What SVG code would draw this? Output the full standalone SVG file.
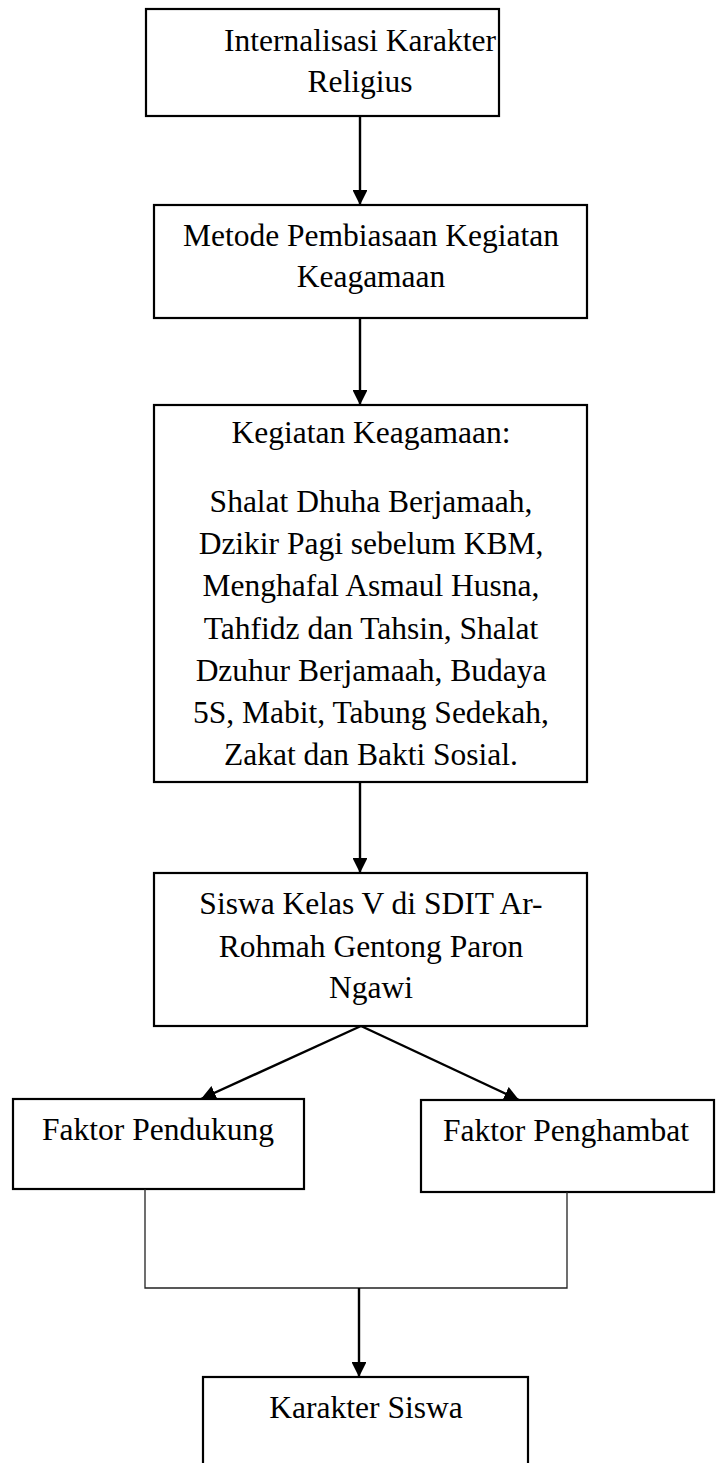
<svg xmlns="http://www.w3.org/2000/svg" width="716" height="1463" viewBox="0 0 716 1463">
<style>
.box{fill:#fff;stroke:#000;stroke-width:2.2}
.t{font-family:"Liberation Serif","Times New Roman",serif;font-size:31.5px;fill:#000;text-anchor:middle}
.c{stroke:#000;stroke-width:2.4;fill:none}
.thin{stroke:#222;stroke-width:1.3;fill:none}
</style>
<defs>
<marker id="ah" viewBox="0 0 10 10" refX="10" refY="5" markerWidth="6.2" markerHeight="6.2" markerUnits="strokeWidth" orient="auto">
<path d="M0,0 L10,5 L0,10 z" fill="#000"/>
</marker>
</defs>
<rect width="716" height="1463" fill="#fff"/>
<g id="n1">
<rect class="box" x="146" y="9" width="353" height="107"/>
<text class="t" x="360" y="51">Internalisasi Karakter</text>
<text class="t" x="360" y="92">Religius</text>
</g>
<g id="n2">
<rect class="box" x="154" y="205" width="433" height="113"/>
<text class="t" x="371" y="246">Metode Pembiasaan Kegiatan</text>
<text class="t" x="371" y="287">Keagamaan</text>
</g>
<g id="n3">
<rect class="box" x="154" y="405" width="433" height="377"/>
<text class="t" x="371" y="443">Kegiatan Keagamaan:</text>
<text class="t" x="371" y="512">Shalat Dhuha Berjamaah,</text>
<text class="t" x="371" y="554">Dzikir Pagi sebelum KBM,</text>
<text class="t" x="371" y="596">Menghafal Asmaul Husna,</text>
<text class="t" x="371" y="639">Tahfidz dan Tahsin, Shalat</text>
<text class="t" x="371" y="681">Dzuhur Berjamaah, Budaya</text>
<text class="t" x="371" y="723">5S, Mabit, Tabung Sedekah,</text>
<text class="t" x="371" y="765">Zakat dan Bakti Sosial.</text>
</g>
<g id="n4">
<rect class="box" x="154" y="873" width="433" height="153"/>
<text class="t" x="371" y="914">Siswa Kelas V di SDIT Ar-</text>
<text class="t" x="371" y="957">Rohmah Gentong Paron</text>
<text class="t" x="371" y="998">Ngawi</text>
</g>
<g id="n5">
<rect class="box" x="13" y="1099" width="291" height="90"/>
<text class="t" x="158" y="1140">Faktor Pendukung</text>
</g>
<g id="n6">
<rect class="box" x="421" y="1100" width="293" height="92"/>
<text class="t" x="566" y="1141">Faktor Penghambat</text>
</g>
<g id="n7">
<rect class="box" x="203" y="1377" width="325" height="110"/>
<text class="t" x="366" y="1418">Karakter Siswa</text>
</g>
<g id="connectors">
<line class="c" x1="360" y1="116" x2="360" y2="205" marker-end="url(#ah)"/>
<line class="c" x1="360" y1="318" x2="360" y2="405" marker-end="url(#ah)"/>
<line class="c" x1="360" y1="782" x2="360" y2="873" marker-end="url(#ah)"/>
<line class="c" x1="361" y1="1026" x2="201" y2="1099" marker-end="url(#ah)"/>
<line class="c" x1="361" y1="1026" x2="519" y2="1100" marker-end="url(#ah)"/>
<polyline class="thin" points="145,1189 145,1288 567,1288 567,1192"/>
<line class="c" x1="359" y1="1288" x2="359" y2="1377" marker-end="url(#ah)"/>
</g>
</svg>
